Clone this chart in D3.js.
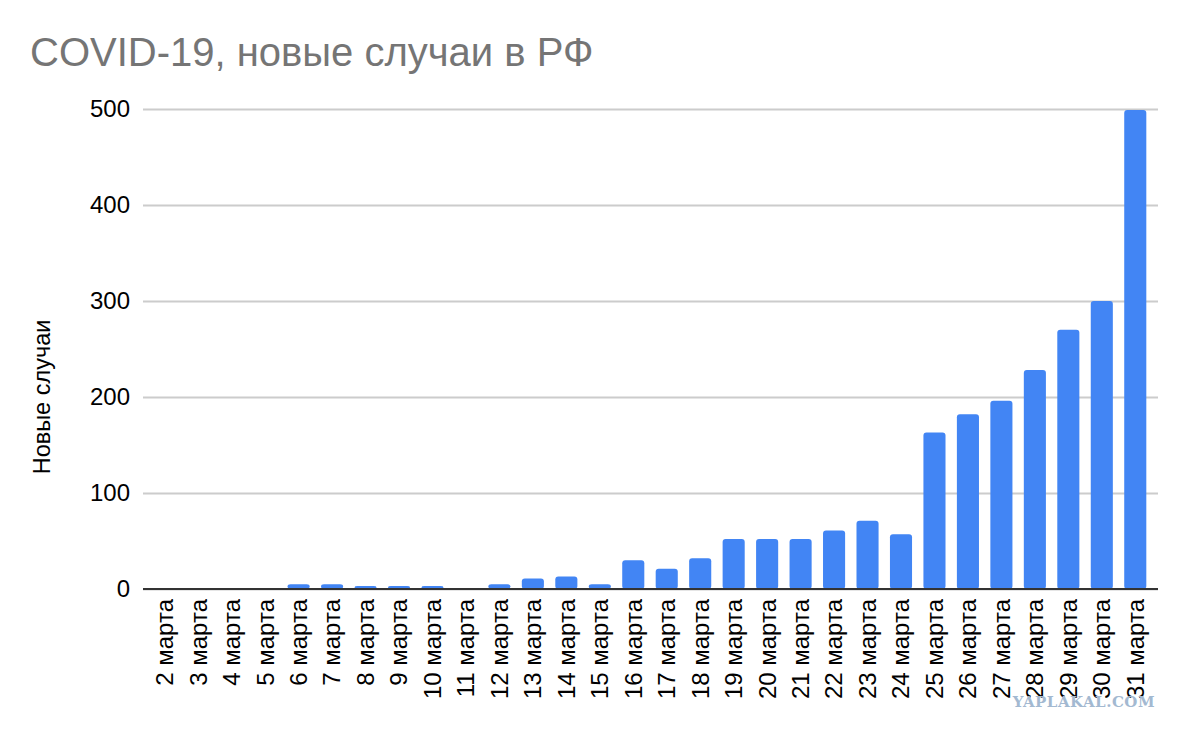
<!DOCTYPE html>
<html><head><meta charset="utf-8">
<script src="https://cdn.jsdelivr.net/npm/d3@7"></script>
<style>body{margin:0;background:#fff;font-family:Arial,"Liberation Sans",sans-serif;}</style>
</head><body><svg id="chart" width="1180" height="730"></svg>
<script>
const categories = ["2 марта","3 марта","4 марта","5 марта","6 марта","7 марта","8 марта","9 марта","10 марта","11 марта","12 марта","13 марта","14 марта","15 марта","16 марта","17 марта","18 марта","19 марта","20 марта","21 марта","22 марта","23 марта","24 марта","25 марта","26 марта","27 марта","28 марта","29 марта","30 марта","31 марта"];
const values = [0,0,0,0,5,5,3,3,3,0,5,11,13,5,30,21,32,52,52,52,61,71,57,163,182,196,228,270,300,499];
const yTicks = [0,100,200,300,400,500];
const title = "COVID-19, новые случаи в РФ";
const yLabel = "Новые случаи";

const svg = d3.select("#chart");
const W = 1180, H = 730;
svg.append("rect").attr("width",W).attr("height",H).attr("fill","#fff");
const m = {left:143, right:22, top:109, bottom:141};
const x = d3.scaleBand().domain(categories).range([148, 1152]).paddingInner(0.34).paddingOuter(0.17);
const y = d3.scaleLinear().domain([0,500]).range([589,109]);

svg.append("text").attr("x",30).attr("y",66).attr("font-size",40).attr("fill","#757575").text(title);

const yAxis = svg.append("g").attr("transform",`translate(${m.left},0)`)
  .call(d3.axisLeft(y).tickValues(yTicks).tickSize(-(W-m.left-m.right)).tickPadding(13));
yAxis.select(".domain").remove();
yAxis.selectAll(".tick line").attr("stroke","#cccccc").attr("stroke-width",2);
yAxis.selectAll(".tick text").attr("font-size",24).attr("font-family","Arial,'Liberation Sans',sans-serif").attr("fill","#000");

svg.append("g").selectAll("rect").data(values).join("rect")
  .attr("x",(d,i)=>x(categories[i]))
  .attr("width",x.bandwidth())
  .attr("y",d=>y(d))
  .attr("height",d=>y(0)-y(d))
  .attr("rx",3).attr("ry",3)
  .attr("fill","#4285f4");

// baseline
svg.append("line").attr("x1",m.left).attr("x2",W-m.right).attr("y1",y(0)).attr("y2",y(0))
  .attr("stroke","#333").attr("stroke-width",2);

const xAxis = svg.append("g").attr("transform",`translate(0,${y(0)})`)
  .call(d3.axisBottom(x).tickSize(0).tickPadding(0));
xAxis.select(".domain").remove();
xAxis.selectAll(".tick text")
  .attr("font-size",24).attr("font-family","Arial,'Liberation Sans',sans-serif").attr("fill","#000")
  .attr("text-anchor","end").attr("transform","rotate(-90)")
  .attr("x",-10).attr("y",0).attr("dy","0.35em");

svg.append("text").attr("transform","translate(50,397) rotate(-90)")
  .attr("text-anchor","middle").attr("font-size",23.5).attr("fill","#000").text(yLabel);

svg.append("text").attr("x",1155).attr("y",707).attr("text-anchor","end")
  .attr("font-size",15).attr("font-weight","bold").attr("font-family","'DejaVu Serif',serif")
  .attr("letter-spacing",0.5)
  .attr("fill","#a3b9d1").text("YAPLAKAL.COM");
</script></body></html>
